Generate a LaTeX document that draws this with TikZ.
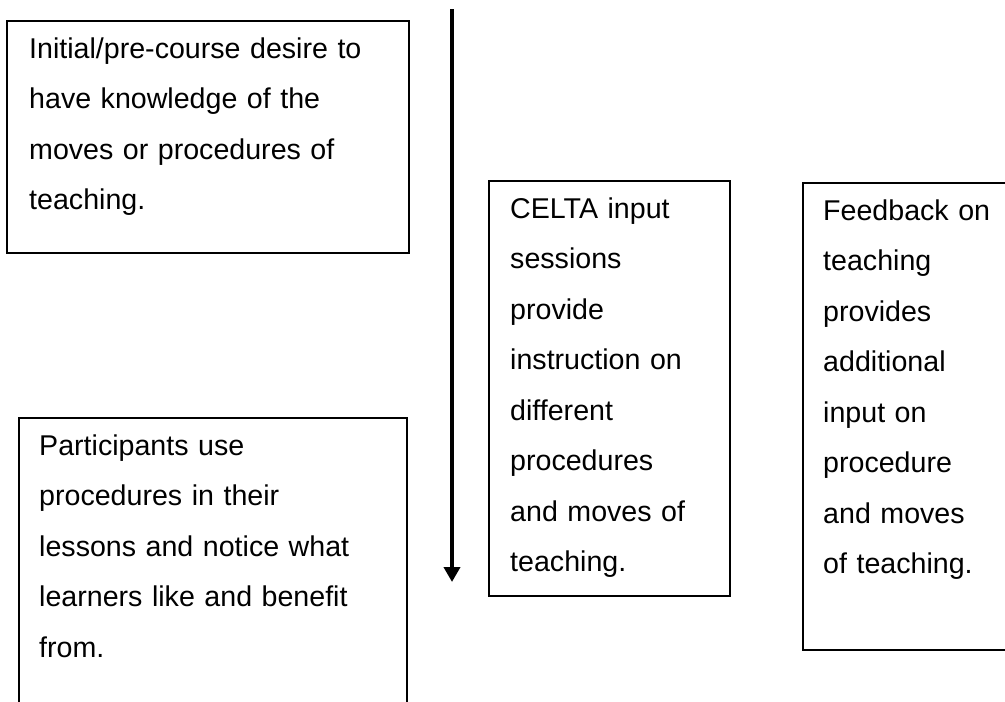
\documentclass[tikz,border=0pt]{standalone}
\usepackage{fontspec}
\setmainfont{Liberation Sans}
\usetikzlibrary{arrows.meta}
\begin{document}
\begin{tikzpicture}[x=1pt,y=-1pt,
  stagebox/.style={draw=black, line width=1.8pt, rectangle, anchor=north west,
    inner sep=0pt, outer sep=0pt},
  stagetext/.style={anchor=base west, inner sep=0pt, align=left, text width=#1,
    font=\fontsize{28.6}{50.5}\selectfont},
  flow/.style={line width=4pt, -{Triangle[width=16pt,length=15pt]}},
]
\useasboundingbox (0,0) rectangle (1005,702);
\clip (0,0) rectangle (1005,702);

% boxes
\node[stagebox, minimum width=402pt, minimum height=232pt] (desire) at (7,21) {};
\node[stagebox, minimum width=388pt, minimum height=330pt] (practice) at (19,418) {};
\node[stagebox, minimum width=241pt, minimum height=415pt] (input) at (489,181) {};
\node[stagebox, minimum width=240pt, minimum height=467pt] (feedback) at (803,183) {};

% texts
\node[stagetext=375pt] (desiretext) at (29,58)
  {Initial/pre-course desire to\\have knowledge of the\\moves or procedures of\\teaching.};
\node[stagetext=365pt] (practicetext) at (39,455)
  {Participants use\\procedures in their\\lessons and notice what\\learners like and benefit\\from.};
\node[stagetext=215pt] (inputtext) at (510,218)
  {CELTA input\\sessions\\provide\\instruction on\\different\\procedures\\and moves of\\teaching.};
\node[stagetext=200pt] (feedbacktext) at (823,220)
  {Feedback on\\teaching\\provides\\additional\\input on\\procedure\\and moves\\of teaching.};

% time arrow
\coordinate (flowtop) at (452,9);
\coordinate (flowend) at (452,582);
\draw[flow] (flowtop) -- (flowend);
\end{tikzpicture}
\end{document}
